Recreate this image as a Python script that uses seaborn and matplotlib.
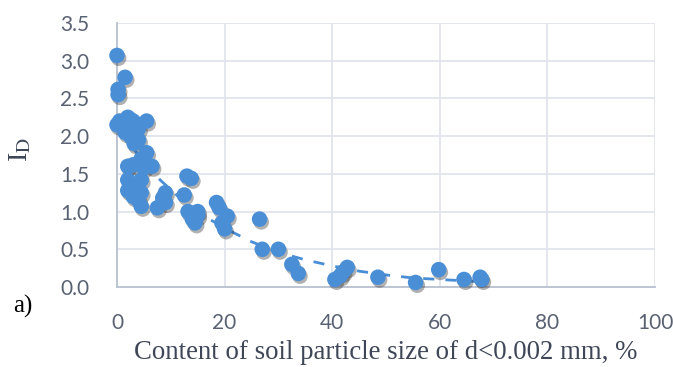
import matplotlib
matplotlib.use("Agg")
import matplotlib.pyplot as plt
import matplotlib.patheffects as pe
import pandas as pd
import seaborn as sns

# measured points: clay content (%) vs I_D
clay = [0.0, 1.5, 0.2, 0.2,
        0.0, 0.5, 1.0, 2.0, 2.5, 3.0, 3.5, 4.0, 3.0, 3.5, 4.0, 3.2, 5.5, 2.0, 1.5, 2.5,
        5.5, 4.5, 6.5, 5.0, 2.0, 3.0,
        2.0, 4.5, 2.0, 4.5, 3.5, 3.0, 4.0, 4.5,
        7.5, 9.0, 8.5, 9.0,
        12.5, 13.0, 13.8,
        13.2, 14.0, 15.0, 14.5, 15.0,
        18.5, 19.0, 20.5, 19.5, 20.0,
        26.5, 27.0, 30.0, 32.5, 33.7,
        40.5, 41.5, 42.0, 42.8,
        48.5, 55.5, 59.8, 64.5, 67.5, 67.8]
i_d = [3.07, 2.78, 2.62, 2.55,
       2.15, 2.20, 2.15, 2.25, 2.22, 2.20, 2.15, 2.10, 2.05, 2.00, 1.95, 1.90, 2.20, 2.10, 2.05, 2.00,
       1.78, 1.70, 1.60, 1.58, 1.60, 1.62,
       1.42, 1.42, 1.28, 1.25, 1.35, 1.20, 1.15, 1.07,
       1.05, 1.25, 1.18, 1.12,
       1.22, 1.47, 1.44,
       1.00, 0.90, 1.00, 0.85, 0.95,
       1.12, 1.05, 0.94, 0.85, 0.77,
       0.90, 0.50, 0.50, 0.30, 0.18,
       0.10, 0.15, 0.20, 0.26,
       0.13, 0.06, 0.23, 0.10, 0.13, 0.10]

# trend line
trend_x = [0, 4, 8, 12, 16, 20, 25, 30, 35, 40, 45, 50, 55, 60, 65, 68]
trend_y = [2.12, 1.75, 1.42, 1.16, 0.95, 0.78, 0.60, 0.46, 0.36, 0.28, 0.21, 0.16, 0.12, 0.10, 0.08, 0.07]

x_ticks = [0, 20, 40, 60, 80, 100]
y_ticks = [0.0, 0.5, 1.0, 1.5, 2.0, 2.5, 3.0, 3.5]

sns.set_theme(style="white")
plt.rcParams["mathtext.fontset"] = "stix"

df = pd.DataFrame({"clay": clay, "id": i_d})
trend = pd.DataFrame({"x": trend_x, "y": trend_y})

blue = "#4a8fd6"
fig = plt.figure(figsize=(6.73, 3.67), dpi=100)
ax = fig.add_axes([117 / 673, 1 - 287 / 367, 538 / 673, 264 / 367])

sns.lineplot(data=trend, x="x", y="y", ax=ax, color=blue, lw=2,
             dashes=False, linestyle=(0, (4, 4)), zorder=2)
sns.scatterplot(data=df, x="clay", y="id", ax=ax, color=blue, s=125,
                edgecolor="none", zorder=3, clip_on=False,
                path_effects=[pe.SimplePatchShadow(offset=(1.2, -2), shadow_rgbFace="#222222", alpha=0.35),
                              pe.Normal()])

ax.set_xlim(0, 100)
ax.set_ylim(0, 3.5)
ax.set_xticks(x_ticks)
ax.set_yticks(y_ticks)
ax.set_xticklabels([str(v) for v in x_ticks])
ax.set_yticklabels([f"{v:.1f}" for v in y_ticks])
ax.tick_params(axis="x", length=0, pad=19, labelsize=15, labelcolor="#5a6272")
ax.tick_params(axis="y", length=0, pad=20, labelsize=15, labelcolor="#5a6272")
for lab in ax.get_xticklabels() + ax.get_yticklabels():
    lab.set_family("Lato")

ax.grid(True, color="#e1e4eb", lw=1.3)
for side in ["top", "right"]:
    ax.spines[side].set_visible(False)
for side in ["left", "bottom"]:
    ax.spines[side].set_color("#b8c0cf")
    ax.spines[side].set_linewidth(1.3)

ax.set_xlabel("Content of soil particle size of d<0.002 mm, %", family="Liberation Serif",
              fontsize=19.3, color="#3e4657")
ax.xaxis.set_label_coords(0.5, -0.2)
ax.set_ylabel(r"I$_\mathrm{D}$", family="Liberation Serif", fontsize=20, color="#3e4657")
ax.yaxis.set_label_coords(-0.155, 0.52)

fig.text(13 / 673, 1 - 306 / 367, "a)", family="Liberation Serif", fontsize=18,
         color="black", va="center", ha="left")

fig.savefig("out.png", dpi=100)
